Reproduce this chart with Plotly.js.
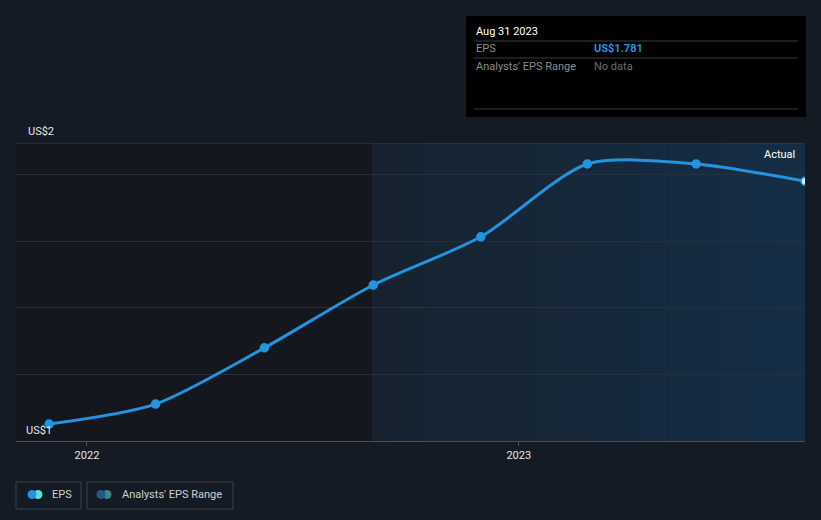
<!DOCTYPE html>
<html>
<head>
<meta charset="utf-8">
<script src="https://cdn.plot.ly/plotly-3.0.1.min.js"></script>
<style>
html,body{margin:0;padding:0;background:#151b25;}
#chart{width:821px;height:520px;}
</style>
</head>
<body>
<div id="chart"></div>
<script>
// Data
const dates = ['2021-11-30','2022-02-28','2022-05-31','2022-08-31','2022-11-30','2023-02-28','2023-05-31','2023-08-31'];
const eps = [1.051, 1.111, 1.280, 1.469, 1.614, 1.833, 1.833, 1.781];
const xTickVals = ['2022-01-01','2023-01-01'];
const xTickText = ['2022','2023'];
const yGridVals = [1.2, 1.4, 1.6, 1.8];
const yLabelText = ['US$1','US$2'];
const tooltipDate = 'Aug 31 2023';
const tooltipEps = 'US$1.781';
const actualStart = '2022-08-31';
const xStart = '2021-11-02';
const xEnd = '2023-08-31';
const yMin = 1.0, yMax = 1.896;

const FONT = 'Roboto, "Open Sans", sans-serif';

const shapes = [];
// gradient shading for "Actual" region
const t0 = new Date(actualStart).getTime(), t1 = new Date(xEnd).getTime();
const steps = 16;
const c0 = [22,34,47], c1 = [21,46,70];
for (let i = 0; i < steps; i++) {
  const a = new Date(t0 + (t1 - t0) * i / steps);
  const b = new Date(t0 + (t1 - t0) * (i + 1) / steps + 86400000);
  const f = (i + 0.5) / steps;
  const c = c0.map((v, k) => Math.round(v + (c1[k] - v) * f));
  shapes.push({type:'rect', xref:'x', yref:'paper', x0:a.toISOString().slice(0,10), x1:b.toISOString().slice(0,10), y0:0, y1:1,
    fillcolor:`rgb(${c[0]},${c[1]},${c[2]})`, line:{width:0}, layer:'below'});
}
shapes.push({type:'line', xref:'x', yref:'paper', x0:actualStart, x1:actualStart, y0:0, y1:1, line:{color:'#1b2935', width:1.5}, layer:'below'});
// top border line
shapes.push({type:'line', xref:'paper', yref:'y', x0:0, x1:1, y0:yMax, y1:yMax, line:{color:'#3a3f48', width:1}});
// tooltip box
shapes.push({type:'rect', xref:'paper', yref:'paper', x0:0.5703, x1:1.0013, y0:1.0872, y1:1.4262, fillcolor:'#000000', line:{width:0}});
[1.3423, 1.2852, 1.1141].forEach(y => shapes.push({type:'line', xref:'paper', yref:'paper', x0:0.5805, x1:0.9911, y0:y, y1:y, line:{color:'#3a3a3a', width:1}}));
// legend boxes
shapes.push({type:'rect', xref:'paper', yref:'paper', x0:0.0, x1:0.0824, y0:-0.2282, y1:-0.1376, line:{color:'#3c414a', width:1}, fillcolor:'rgba(0,0,0,0)'});
shapes.push({type:'rect', xref:'paper', yref:'paper', x0:0.0900, x1:0.2750, y0:-0.2282, y1:-0.1376, line:{color:'#3c414a', width:1}, fillcolor:'rgba(0,0,0,0)'});
function dot(px, py, color) {
  const xa = (px - 16) / 789, ya = (441 - py) / 298;
  shapes.push({type:'circle', xref:'paper', yref:'paper', xsizemode:'pixel', ysizemode:'pixel', xanchor:xa, yanchor:ya,
    x0:-4.5, x1:4.5, y0:-4.5, y1:4.5, fillcolor:color, line:{width:0}});
}
dot(38, 494.5, '#5ee0d6'); dot(32, 494.5, '#2394df');
dot(107, 494.5, '#3a8683'); dot(101, 494.5, '#1f5a88');

const annotations = [];
function txt(text, px, py, opts) {
  annotations.push(Object.assign({xref:'paper', yref:'paper', x:(px - 16) / 789, y:(441 - py) / 298, text:text,
    showarrow:false, xanchor:'left', yanchor:'middle', font:{family:FONT, size:12, color:'#ffffff'}}, opts || {}));
}
// y labels
txt(yLabelText[1], 26, 131, {font:{family:FONT, size:11, color:'#e6e6e6'}});
txt(yLabelText[0], 24, 430, {font:{family:FONT, size:11, color:'#e6e6e6'}});
txt('Actual', 797, 154, {xanchor:'right', font:{family:FONT, size:11, color:'#ffffff'}});
// tooltip text
txt(tooltipDate, 474, 31, {font:{family:FONT, size:11, color:'#ffffff'}});
txt('EPS', 474, 48.5, {font:{family:FONT, size:11, color:'#8c8c8c'}});
txt('<b>' + tooltipEps + '</b>', 592, 48.5, {font:{family:FONT, size:11, color:'#2394df'}});
txt("Analysts' EPS Range", 474, 66, {font:{family:FONT, size:11, color:'#8c8c8c'}});
txt('No data', 592, 66, {font:{family:FONT, size:11, color:'#6c6c6c'}});
// legend text
txt('EPS', 50, 494.5, {font:{family:FONT, size:11, color:'#d0d0d0'}});
txt("Analysts' EPS Range", 120, 494.5, {font:{family:FONT, size:11, color:'#d0d0d0'}});

const markerColors = eps.map((v, i) => i === eps.length - 1 ? '#cfe9ff' : '#2394df');

const trace = {
  x: dates, y: eps, type:'scatter', mode:'lines+markers',
  line:{color:'#2394df', width:3, shape:'spline', smoothing:0.75},
  marker:{color:markerColors, size:8, line:{color:'#2394df', width:1.5}},
  hoverinfo:'skip', cliponaxis:true
};

const layout = {
  width:821, height:520,
  margin:{l:16, r:16, t:143, b:79},
  paper_bgcolor:'#151b25', plot_bgcolor:'#14171e',
  showlegend:false,
  font:{family:FONT, color:'#e6e6e6'},
  xaxis:{type:'date', range:[xStart, xEnd], tickvals:xTickVals, ticktext:xTickText,
    showgrid:false, zeroline:false, showline:true, linecolor:'#4a4f57', linewidth:1,
    ticks:'outside', ticklen:4, tickcolor:'#4a4f57', tickfont:{family:FONT, size:11, color:'#e6e6e6'}, fixedrange:true},
  yaxis:{range:[yMin, yMax], tickvals:yGridVals, showticklabels:false, showgrid:true, gridcolor:'#2a3039', gridwidth:1,
    zeroline:false, showline:false, ticks:'', fixedrange:true},
  shapes:shapes, annotations:annotations
};

Plotly.newPlot('chart', [trace], layout, {displayModeBar:false, staticPlot:true});
</script>
</body>
</html>
